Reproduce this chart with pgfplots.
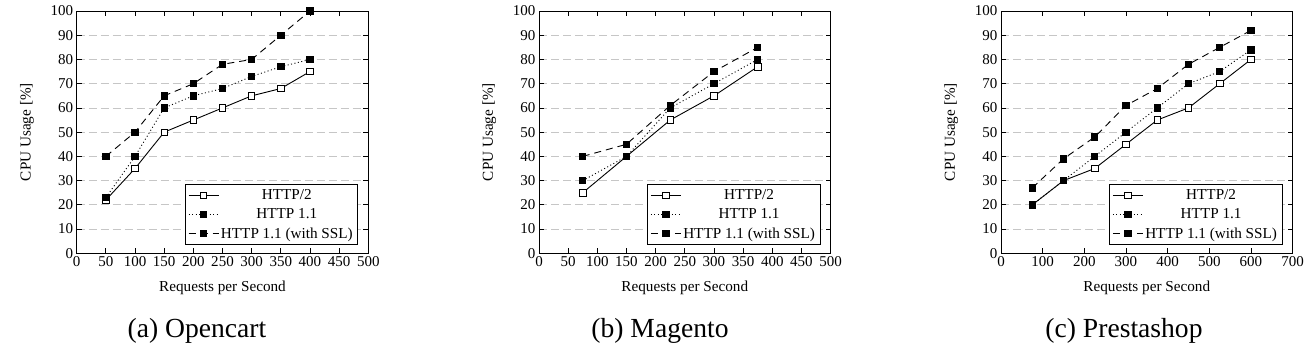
\documentclass[border=0pt]{standalone}
\usepackage{fontspec}
\setmainfont{Liberation Serif}
\usepackage{pgfplots}
\pgfplotsset{compat=1.18}
\pgfplotsset{
  myaxis/.style={
    scale only axis, width=291.6pt, height=242.3pt,
    ymin=0, ymax=100, ytick={0,10,...,100},
    ymajorgrids,
    grid style={gray!45, line width=0.7pt, dash pattern=on 8pt off 4pt},
    axis line style={line width=0.8pt},
    every tick/.style={line width=0.8pt, black},
    major tick length=5pt,
    tick label style={font=\fontsize{15}{18}\selectfont},
    label style={font=\fontsize{15.2}{18}\selectfont},
    /pgf/number format/assume math mode=true,
    xlabel={Requests per Second}, ylabel={CPU Usage [\%]},
    xlabel shift=7pt, ylabel shift=10pt,
    legend style={at={(0.965,0.034)}, anchor=south east, font=\fontsize{15.2}{18}\selectfont,
      draw=black, line width=0.8pt, inner sep=3pt, row sep=3.5pt},
    legend cell align=center,
    legend image code/.code={%
      \draw[mark repeat=2,mark phase=2,#1] plot coordinates {(0pt,0pt) (15pt,0pt) (30pt,0pt)};},
  },
  h2/.style={black, line width=0.9pt, solid, mark=square*, mark size=3.2pt, mark options={solid, fill=white, line width=0.8pt}},
  h11/.style={black, line width=0.9pt, dash pattern=on 1pt off 2.5pt, mark=square*, mark size=3.2pt, mark options={solid, fill=black}},
  hssl/.style={black, line width=0.9pt, dash pattern=on 7pt off 5pt, mark=square*, mark size=3.2pt, mark options={solid, fill=black}},
}
\begin{document}
\begin{tikzpicture}
\path[use as bounding box] (0,0) rectangle (1313pt,-354pt);
% (a) Opencart
\begin{axis}[myaxis, at={(76.7pt,-253.3pt)}, anchor=south west,
  xmin=0, xmax=500, xtick={0,50,...,500}]
\addplot[h2] coordinates {(50,22) (100,35) (150,50) (200,55) (250,60) (300,65) (350,68) (400,75)};
\addplot[h11] coordinates {(50,23) (100,40) (150,60) (200,65) (250,68) (300,73) (350,77) (400,80)};
\addplot[hssl] coordinates {(50,40) (100,50) (150,65) (200,70) (250,78) (300,80) (350,90) (400,100)};
\legend{HTTP/2, HTTP 1.1, HTTP 1.1 (with SSL)}
\end{axis}
% (b) Magento
\begin{axis}[myaxis, at={(539pt,-253.3pt)}, anchor=south west,
  xmin=0, xmax=500, xtick={0,50,...,500}]
\addplot[h2] coordinates {(75,25) (150,40) (225,55) (300,65) (375,77)};
\addplot[h11] coordinates {(75,30) (150,40) (225,60) (300,70) (375,80)};
\addplot[hssl] coordinates {(75,40) (150,45) (225,61) (300,75) (375,85)};
\legend{HTTP/2, HTTP 1.1, HTTP 1.1 (with SSL)}
\end{axis}
% (c) Prestashop
\begin{axis}[myaxis, at={(1001pt,-253.3pt)}, anchor=south west,
  xmin=0, xmax=700, xtick={0,100,...,700}]
\addplot[h2] coordinates {(75,20) (150,30) (225,35) (300,45) (375,55) (450,60) (525,70) (600,80)};
\addplot[h11] coordinates {(75,20) (150,30) (225,40) (300,50) (375,60) (450,70) (525,75) (600,84)};
\addplot[hssl] coordinates {(75,27) (150,39) (225,48) (300,61) (375,68) (450,78) (525,85) (600,92)};
\legend{HTTP/2, HTTP 1.1, HTTP 1.1 (with SSL)}
\end{axis}
\node[font=\fontsize{27.6}{32}\selectfont] at (197pt,-331pt) {(a) Opencart};
\node[font=\fontsize{27.6}{32}\selectfont] at (660pt,-331pt) {(b) Magento};
\node[font=\fontsize{27.6}{32}\selectfont] at (1124pt,-331pt) {(c) Prestashop};
\end{tikzpicture}
\end{document}
